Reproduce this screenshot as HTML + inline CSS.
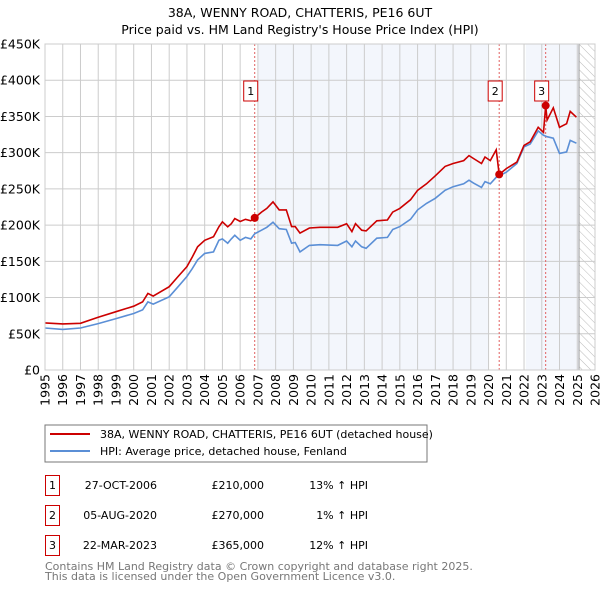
<!DOCTYPE html>
<html><head><meta charset="utf-8"><style>
body{margin:0;background:#fff;font-family:"DejaVu Sans","Liberation Sans",sans-serif}
svg text{font-family:"DejaVu Sans","Liberation Sans",sans-serif}
</style></head><body>
<svg id="c" width="600" height="590" viewBox="0 0 600 590" xmlns="http://www.w3.org/2000/svg">
<defs><pattern id="hatch" width="6" height="6" patternUnits="userSpaceOnUse" patternTransform="rotate(-45)"><line x1="0" y1="0" x2="0" y2="6" stroke="#bbb" stroke-width="1"/></pattern></defs>
<text x="300" y="17" text-anchor="middle" font-size="12.5">38A, WENNY ROAD, CHATTERIS, PE16 6UT</text>
<text x="300" y="34" text-anchor="middle" font-size="12.5">Price paid vs. HM Land Registry's House Price Index (HPI)</text>
<g id="plot"></g>
<g>
<rect x="45" y="425" width="382" height="37" fill="#fff" stroke="#777"/>
<line x1="50" y1="434" x2="90" y2="434" stroke="#cc0000" stroke-width="2"/>
<text x="100" y="438" font-size="11">38A, WENNY ROAD, CHATTERIS, PE16 6UT (detached house)</text>
<line x1="50" y1="451" x2="90" y2="451" stroke="#5b8fd6" stroke-width="2"/>
<text x="100" y="455" font-size="11">HPI: Average price, detached house, Fenland</text>
</g>
<g id="table" font-size="11"></g>
<text x="45" y="570" font-size="11" fill="#777">Contains HM Land Registry data © Crown copyright and database right 2025.</text>
<text x="45" y="580" font-size="11" fill="#777">This data is licensed under the Open Government Licence v3.0.</text>
</svg>
<script>
const yTicks=[0,50000,100000,150000,200000,250000,300000,350000,400000,450000];
const yTickLabels=["£0","£50K","£100K","£150K","£200K","£250K","£300K","£350K","£400K","£450K"];
const xYears=[1995,1996,1997,1998,1999,2000,2001,2002,2003,2004,2005,2006,2007,2008,2009,2010,2011,2012,2013,2014,2015,2016,2017,2018,2019,2020,2021,2022,2023,2024,2025,2026];
const priceT=[1995,1996,1997,1998,1999,2000,2000.5,2000.8,2001.1,2002,2002.5,2003,2003.3,2003.6,2004,2004.5,2004.8,2005,2005.3,2005.5,2005.7,2006,2006.3,2006.6,2006.82,2007.2,2007.5,2007.85,2008.2,2008.6,2008.9,2009.1,2009.37,2009.9,2010.5,2011.5,2012,2012.3,2012.5,2012.85,2013.1,2013.7,2014.3,2014.6,2015,2015.6,2016,2016.5,2017,2017.55,2018,2018.6,2018.9,2019.15,2019.6,2019.8,2020.1,2020.43,2020.6,2021,2021.6,2022,2022.35,2022.8,2023.1,2023.22,2023.3,2023.65,2024,2024.4,2024.6,2024.95];
const priceV=[65,63.6,64.5,72.7,80.5,88,94,105.8,102,115,129,142.6,156,170,179,184,197.7,204.6,197.7,202,209,205,208,206,210,218,223,232,221,221,198,198,189,196,197,197,202,191,202,193,192,206,207,218,223,235,248,257,268,281,285,289,296,292,285,294,289,304,270,278,287,310,315,335,328,365,345,362,335,340,357,349];
const hpiT=[1995,1996,1997,1998,1999,2000,2000.5,2000.8,2001.1,2002,2002.5,2003,2003.3,2003.6,2004,2004.5,2004.8,2005,2005.3,2005.5,2005.7,2006,2006.3,2006.6,2006.82,2007.2,2007.5,2007.85,2008.2,2008.6,2008.9,2009.1,2009.37,2009.9,2010.5,2011.5,2012,2012.3,2012.5,2012.85,2013.1,2013.7,2014.3,2014.6,2015,2015.6,2016,2016.5,2017,2017.55,2018,2018.6,2018.9,2019.15,2019.6,2019.8,2020.1,2020.43,2020.6,2021,2021.6,2022,2022.35,2022.8,2023.1,2023.3,2023.65,2024,2024.4,2024.6,2024.95];
const hpiV=[58,56,58,64,71,78,83,94,91,101,115,129,140,152,161,163,179,181,175,181,186,179,183,181,188,193,197,204,195,194,175,176,163,172,173,172,178,170,178,170,168,182,183,194,198,208,221,230,237,248,253,257,262,258,252,260,257,266,268,273,285,308,312,330,324,322,320,299,301,317,313];
const saleT=[2006.82,2020.6,2023.22];
const saleV=[210,270,365];
const saleLabels=["1","2","3"];
const saleDates=["27-OCT-2006","05-AUG-2020","22-MAR-2023"];
const salePrices=["£210,000","£270,000","£365,000"];
const salePct=["13% \u2191 HPI","1% \u2191 HPI","12% \u2191 HPI"];

const X0=45,X1=595,Y0=370,Y1=44;
const xs=t=>X0+(t-1995)*(X1-X0)/31;
const ys=v=>Y0-v*(Y0-Y1)/450000;
const NS="http://www.w3.org/2000/svg";
const plot=document.getElementById('plot');
function mk(tag,attrs,parent){const e=document.createElementNS(NS,tag);for(const k in attrs)e.setAttribute(k,attrs[k]);(parent||plot).appendChild(e);return e;}
let e;
e=mk('rect',{x:X0,y:Y1,width:X1-X0,height:Y0-Y1,fill:'#fff'});

e=mk('rect',{x:xs(2007),y:Y1,width:xs(2020)-xs(2007),height:Y0-Y1,fill:'#f3f6fc'});

e=mk('rect',{x:xs(2022.1),y:Y1,width:xs(2025.1)-xs(2022.1),height:Y0-Y1,fill:'#f3f6fc'});

e=mk('rect',{x:xs(2025.1),y:Y1,width:X1-xs(2025.1),height:Y0-Y1,fill:'url(#hatch)'});

yTicks.forEach((v,i)=>{
 e=mk('line',{x1:X0,x2:X1,y1:ys(v),y2:ys(v),stroke:'#ccc'});
 
 e=mk('text',{x:40,y:ys(v)+4.5,'text-anchor':'end','font-size':12.5});
 e.textContent=yTickLabels[i];
 
});
xYears.forEach(yr=>{
 e=mk('line',{x1:xs(yr),x2:xs(yr),y1:Y1,y2:Y0,stroke:'#ccc'});
 
 e=mk('text',{x:0,y:0,'text-anchor':'end','font-size':12.5,transform:`translate(${xs(yr)+4.5},374) rotate(-90)`});
 e.textContent=yr;
 
});
e=mk('line',{x1:xs(2025.1),x2:xs(2025.1),y1:Y1,y2:Y0,stroke:'#999'});

saleT.forEach(t=>{
 e=mk('line',{x1:xs(t),x2:xs(t),y1:Y1,y2:Y0,stroke:'#e06060','stroke-dasharray':'2,2'});
 
});
function path(T,V){return T.map((t,i)=>(i?'L':'M')+xs(t).toFixed(1)+','+ys(V[i]*1000).toFixed(1)).join('');}
e=mk('path',{d:path(hpiT,hpiV),fill:'none',stroke:'#5b8fd6','stroke-width':1.6});

e=mk('path',{d:path(priceT,priceV),fill:'none',stroke:'#cc0000','stroke-width':1.6});

saleT.forEach((t,i)=>{
 e=mk('circle',{cx:xs(t),cy:ys(saleV[i]*1000),r:4,fill:'#cc0000'});
 
 e=mk('rect',{x:xs(t)-11,y:81,width:14,height:20,fill:'#fff',stroke:'#cc0000'});
 
 e=mk('text',{x:xs(t)-4,y:95,'text-anchor':'middle','font-size':11});
 e.textContent=saleLabels[i];
 
});
e=mk('rect',{x:X0,y:Y1,width:X1-X0,height:Y0-Y1,fill:'none',stroke:'#ccc'});

const tb=document.getElementById('table');
saleT.forEach((t,i)=>{
 const y=475+i*30;
 e=mk('rect',{x:45.5,y:y+0.5,width:14,height:20,fill:'#fff',stroke:'#cc0000'},tb);
 
 e=mk('text',{x:52.5,y:y+14,'text-anchor':'middle'},tb);e.textContent=saleLabels[i];
 
 e=mk('text',{x:157,y:y+14,'text-anchor':'end'},tb);e.textContent=saleDates[i];
 
 e=mk('text',{x:264,y:y+14,'text-anchor':'end'},tb);e.textContent=salePrices[i];
 
 e=mk('text',{x:368,y:y+14,'text-anchor':'end'},tb);e.textContent=salePct[i];
 
});
</script>
</body></html>
